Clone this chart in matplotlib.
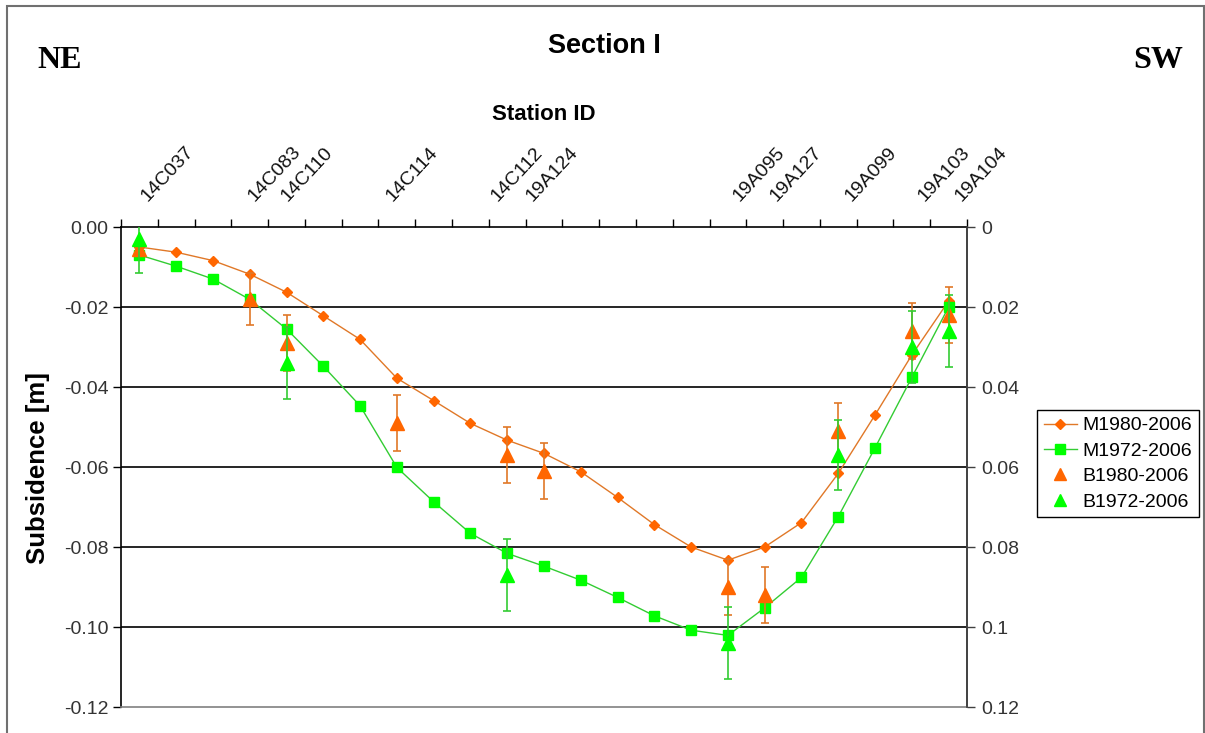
import matplotlib
matplotlib.use("Agg")
import matplotlib.pyplot as plt
from matplotlib.patches import Rectangle
from matplotlib.lines import Line2D
import matplotlib.transforms as mtransforms

plt.rcParams['font.family'] = ['Liberation Sans', 'DejaVu Sans']

# station labels along the section and where they sit (in point units)
stations = ['14C037', '14C083', '14C110', '14C114', '14C112', '19A124',
            '19A095', '19A127', '19A099', '19A103', '19A104']
station_pos = [0.23, 3.14, 4.04, 6.89, 9.74, 10.70, 16.32, 17.33, 19.36, 21.35, 22.35]

# modelled subsidence [m], one value per point along the section
m1980 = [-0.0050, -0.0063, -0.0084, -0.0118, -0.0163, -0.0222, -0.0281, -0.0378,
         -0.0434, -0.0491, -0.0533, -0.0566, -0.0612, -0.0676, -0.0744, -0.0800,
         -0.0833, -0.0800, -0.0739, -0.0616, -0.0470, -0.0320, -0.0185]
m1972 = [-0.0070, -0.0098, -0.0130, -0.0181, -0.0255, -0.0348, -0.0447, -0.0601,
         -0.0687, -0.0766, -0.0816, -0.0848, -0.0883, -0.0926, -0.0972, -0.1008,
         -0.1021, -0.0952, -0.0876, -0.0724, -0.0552, -0.0376, -0.0200]

# benchmark measurements with error
b1980_idx = [0, 3, 4, 7, 10, 11, 16, 17, 19, 21, 22]
b1980 = [-0.0055, -0.018, -0.029, -0.049, -0.057, -0.061, -0.090, -0.092, -0.051, -0.026, -0.022]
b1980_err = [0.0, 0.0065, 0.007, 0.007, 0.007, 0.007, 0.007, 0.007, 0.007, 0.007, 0.007]

b1972_idx = [0, 4, 10, 16, 19, 21, 22]
b1972 = [-0.003, -0.034, -0.087, -0.104, -0.057, -0.030, -0.026]
b1972_err = [0.0085, 0.009, 0.009, 0.009, 0.0087, 0.009, 0.009]

orange = '#FF6600'
orange_line = '#E07828'
green = '#00FF00'
green_line = '#33CC33'

W, H = 1205, 733
fig = plt.figure(figsize=(W / 100, H / 100), dpi=100)
fig.patch.set_facecolor('white')

ax = fig.add_axes([121 / W, 1 - 707 / H, (967 - 121) / W, (707 - 227) / H])
n = len(m1980)
x = list(range(n))

ax.plot(x, m1980, color=orange_line, lw=1.0, marker='D', ms=5.5,
        mfc=orange, mec=orange, zorder=3)
ax.plot(x, m1972, color=green_line, lw=1.0, marker='s', ms=7,
        mfc=green, mec=green, zorder=3)
ax.errorbar(b1980_idx, b1980, yerr=b1980_err, fmt='^', color=orange, ms=9.5,
            ecolor=orange_line, elinewidth=1.2, capsize=3, capthick=1.2, zorder=4)
ax.errorbar(b1972_idx, b1972, yerr=b1972_err, fmt='^', color=green, ms=9.5,
            ecolor=green_line, elinewidth=1.2, capsize=3, capthick=1.2, zorder=5)

ax.set_xlim(-0.5, n - 0.5)
ax.set_ylim(-0.12, 0)
ax.set_yticks([0, -0.02, -0.04, -0.06, -0.08, -0.10, -0.12])
ax.set_yticklabels(['0.00', '-0.02', '-0.04', '-0.06', '-0.08', '-0.10', '-0.12'])
for yv in [-0.02, -0.04, -0.06, -0.08, -0.10]:
    ax.axhline(yv, color='black', lw=1.2, zorder=1)

ax.xaxis.tick_top()
ax.set_xticks([i - 0.5 for i in range(n + 1)])
ax.set_xticklabels([])
ax.tick_params(axis='x', direction='out', length=6, width=1, color='black')
ax.tick_params(axis='y', direction='out', length=6, width=1, labelsize=14,
               labelcolor='#333333', pad=3)
ax.spines['top'].set_color('black')
ax.spines['left'].set_color('black')
ax.spines['bottom'].set_color('#808080')
ax.spines['right'].set_color('#404040')
for s in ax.spines.values():
    s.set_linewidth(1.2)

ax2 = ax.twinx()
ax2.set_ylim(0.12, 0)
ax2.set_yticks([0, 0.02, 0.04, 0.06, 0.08, 0.10, 0.12])
ax2.set_yticklabels(['0', '0.02', '0.04', '0.06', '0.08', '0.1', '0.12'])
ax2.tick_params(axis='y', direction='out', length=6, width=1, labelsize=14,
                labelcolor='#333333', color='#404040', pad=4)
ax2.spines['right'].set_color('#404040')
ax2.spines['right'].set_linewidth(1.2)
for k in ['top', 'left', 'bottom']:
    ax2.spines[k].set_visible(False)

# station labels above the top axis
trans = mtransforms.blended_transform_factory(ax.transData, ax.transAxes)
for name, pos in zip(stations, station_pos):
    ax.text(pos, 1.052, name, transform=trans, rotation=47, rotation_mode='anchor',
            ha='left', va='baseline', fontsize=14, color='#111111')

fig.text(604 / W, 1 - 53 / H, 'Section I', ha='center', va='baseline',
         fontsize=19.5, fontweight='bold')
fig.text(544 / W, 1 - 120 / H, 'Station ID', ha='center', va='baseline',
         fontsize=16, fontweight='bold')
fig.text(37 / W, 1 - 68 / H, 'NE', ha='left', va='baseline', fontsize=23,
         fontweight='bold', family='Liberation Serif')
fig.text(1183 / W, 1 - 68 / H, 'SW', ha='right', va='baseline', fontsize=23,
         fontweight='bold', family='Liberation Serif')
fig.text(38 / W, 1 - 468 / H, 'Subsidence [m]', ha='center', va='center',
         rotation=90, fontsize=18.5, fontweight='bold')

handles = [
    Line2D([], [], color=orange_line, lw=1.0, marker='D', ms=5.5, mfc=orange, mec=orange),
    Line2D([], [], color=green_line, lw=1.0, marker='s', ms=7, mfc=green, mec=green),
    Line2D([], [], ls='none', marker='^', ms=9, color=orange),
    Line2D([], [], ls='none', marker='^', ms=9, color=green),
]
labels = ['M1980-2006', 'M1972-2006', 'B1980-2006', 'B1972-2006']
leg = fig.legend(handles, labels, loc='upper left',
                 bbox_to_anchor=(1037 / W, 1 - 410 / H), fontsize=14,
                 frameon=True, fancybox=False, framealpha=1, edgecolor='black',
                 handlelength=1.7, handletextpad=0.3, labelspacing=0.4,
                 borderpad=0.35, borderaxespad=0)
leg.get_frame().set_linewidth(1.0)

# outer chart border
fig.patches.append(Rectangle((7 / W, -0.01), (1204 - 7) / W, 0.01 + 1 - 6 / H,
                             transform=fig.transFigure, fill=False,
                             edgecolor='#707070', lw=1.5))

fig.savefig('out.png', dpi=100)
